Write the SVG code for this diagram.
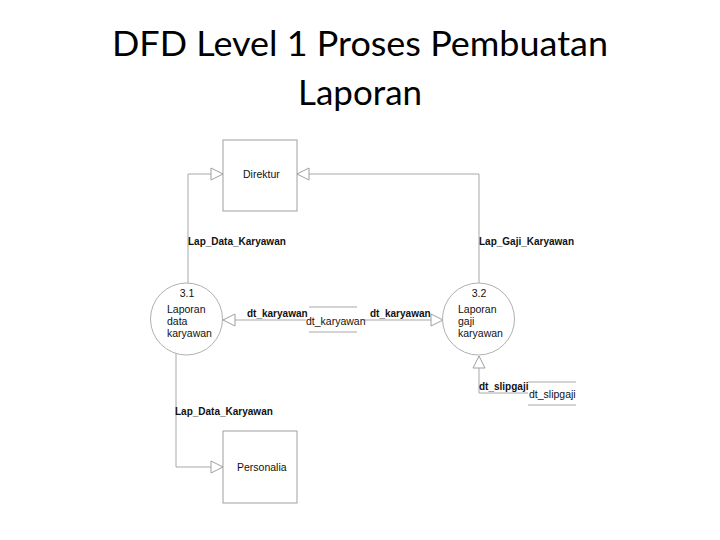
<svg xmlns="http://www.w3.org/2000/svg" width="720" height="540" viewBox="0 0 720 540">
<style>
.title{font-family:Lato,"Liberation Sans",Arial,sans-serif;font-size:35px;fill:#000;text-anchor:middle}
.t{font-family:"Liberation Sans",Arial,sans-serif;font-size:10.5px;fill:#111}
.b{font-family:"Liberation Sans",Arial,sans-serif;font-size:10px;font-weight:bold;fill:#111}
.c{text-anchor:middle}
.box{fill:#fff;stroke:#a0a0a0;stroke-width:1}
.proc{fill:#fff;stroke:#b0b0b0;stroke-width:1}
.ln{fill:none;stroke:#a8a8a8;stroke-width:1}
.store{stroke:#a8a8a8;stroke-width:1}
</style>
<defs>
<marker id="ah" markerUnits="userSpaceOnUse" markerWidth="14" markerHeight="14" refX="12" refY="6" orient="auto" viewBox="-1 -1 14 14">
<path d="M0,0 L12,6 L0,12 Z" fill="#fff" stroke="#a0a0a0" stroke-width="1"/>
</marker>
</defs>
<rect width="720" height="540" fill="#fff"/>
<g id="title">
<text class="title" x="360" y="56" textLength="496" lengthAdjust="spacingAndGlyphs">DFD Level 1 Proses Pembuatan</text>
<text class="title" x="360" y="105" textLength="124" lengthAdjust="spacingAndGlyphs">Laporan</text>
</g>
<g id="connectors">
<polyline class="ln" points="188,283 188,174 223,174" marker-end="url(#ah)"/>
<polyline class="ln" points="479,283 479,174 297,174" marker-end="url(#ah)"/>
<polyline class="ln" points="176,353 176,467 223,467" marker-end="url(#ah)"/>
<line class="ln" x1="306" y1="320" x2="223" y2="320" marker-end="url(#ah)"/>
<line class="ln" x1="363" y1="320" x2="443" y2="320" marker-end="url(#ah)"/>
<polyline class="ln" points="528,393 479,393 479,356" marker-end="url(#ah)"/>
<text class="b" x="188" y="245">Lap_Data_Karyawan</text>
<text class="b" x="479" y="245">Lap_Gaji_Karyawan</text>
<text class="b" x="175" y="415">Lap_Data_Karyawan</text>
<text class="b" x="247" y="317">dt_karyawan</text>
<text class="b" x="370" y="317">dt_karyawan</text>
<text class="b" x="479" y="390">dt_slipgaji</text>
</g>
<g id="direktur">
<rect class="box" x="223" y="140" width="74" height="71"/>
<text class="t" x="243" y="178">Direktur</text>
</g>
<g id="personalia">
<rect class="box" x="223" y="431" width="74" height="72"/>
<text class="t" x="237" y="471">Personalia</text>
</g>
<g id="p31">
<circle class="proc" cx="186.5" cy="319" r="36"/>
<text class="t c" x="187" y="297">3.1</text>
<text class="t" x="167" y="313">Laporan</text>
<text class="t" x="167" y="325">data</text>
<text class="t" x="167" y="337">karyawan</text>
</g>
<g id="p32">
<circle class="proc" cx="478.5" cy="319" r="36"/>
<text class="t c" x="479" y="297">3.2</text>
<text class="t" x="458" y="313">Laporan</text>
<text class="t" x="458" y="325">gaji</text>
<text class="t" x="458" y="337">karyawan</text>
</g>
<g id="store_dt_karyawan">
<line class="store" x1="309" y1="307" x2="357" y2="307"/>
<line class="store" x1="309" y1="332" x2="357" y2="332"/>
<text class="t" x="306" y="325">dt_karyawan</text>
</g>
<g id="store_dt_slipgaji">
<line class="store" x1="528" y1="382" x2="576" y2="382"/>
<line class="store" x1="528" y1="405" x2="576" y2="405"/>
<text class="t" x="529" y="398">dt_slipgaji</text>
</g>
</svg>
